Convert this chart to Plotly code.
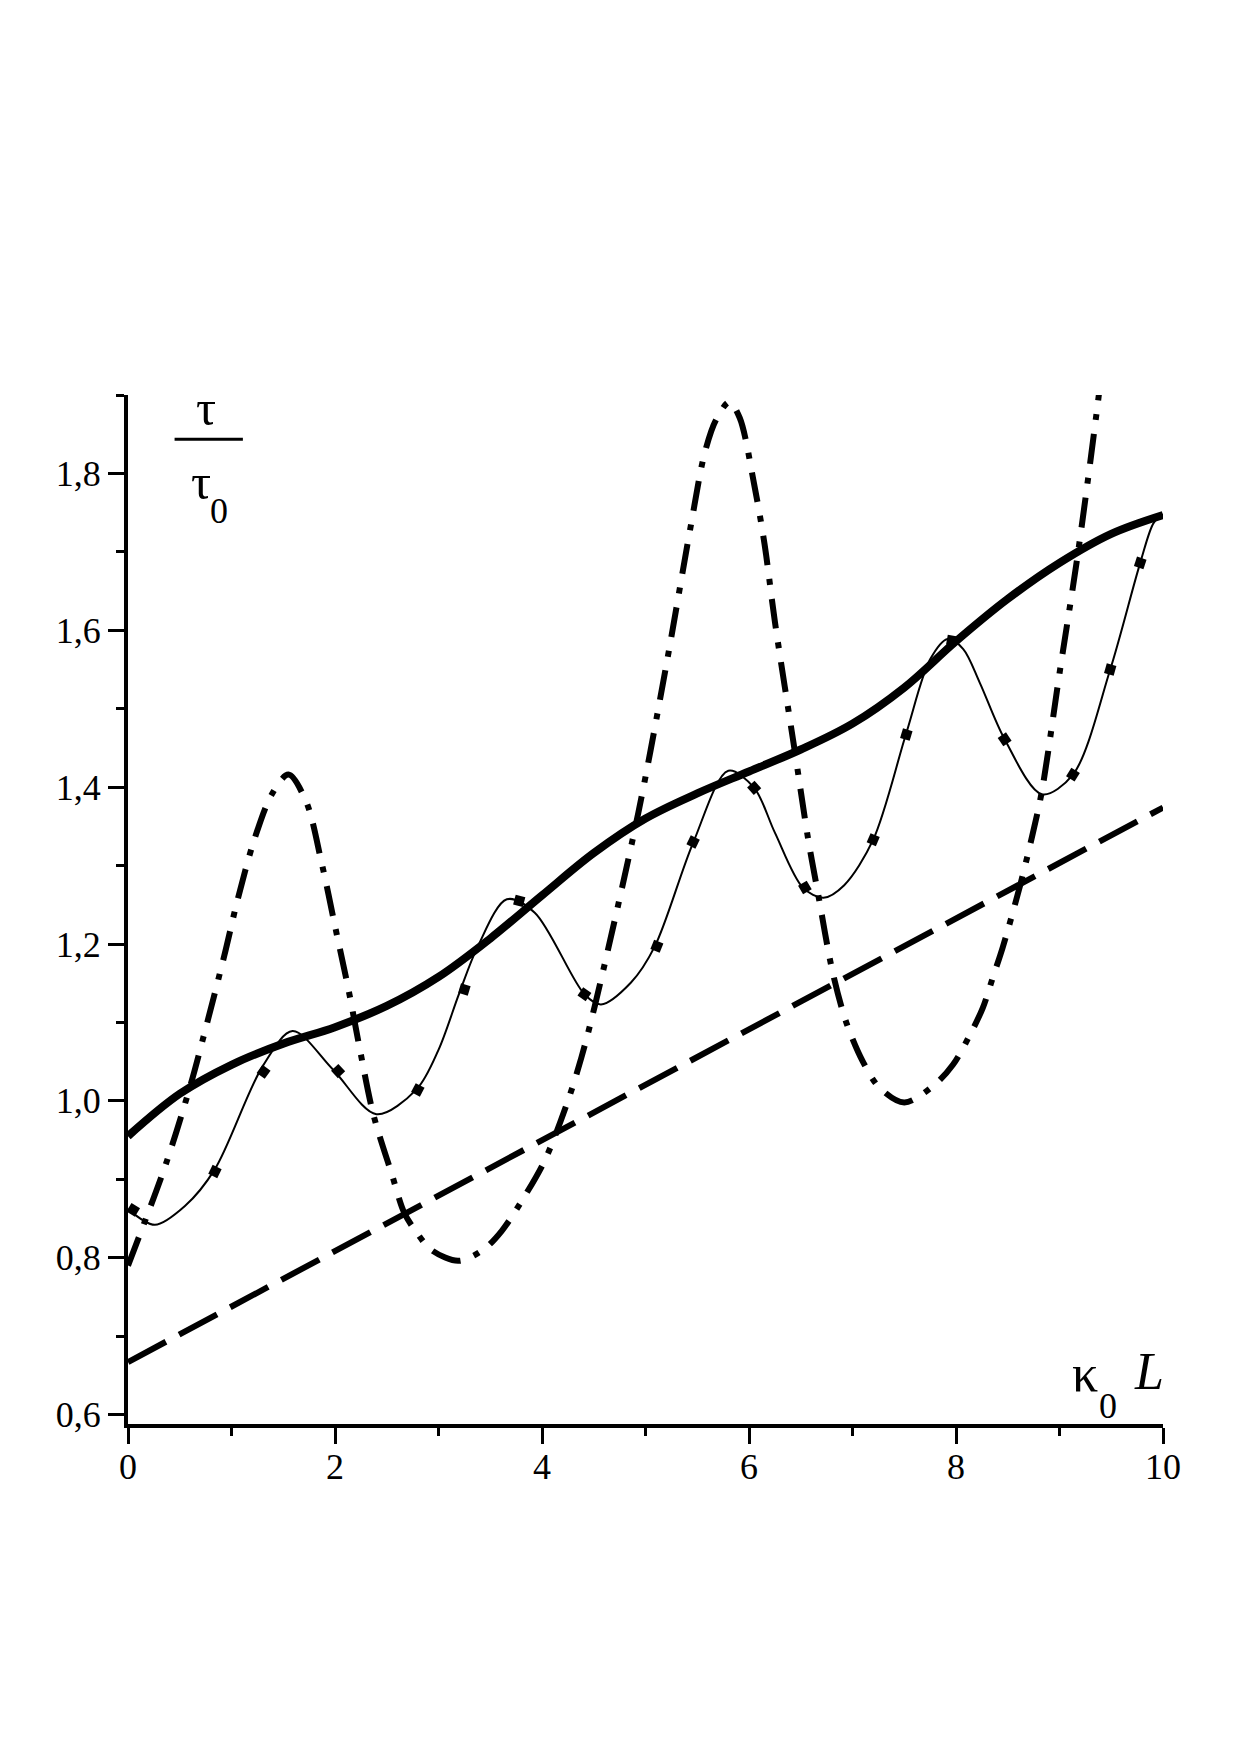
import plotly.graph_objects as go

# ---------------- data ----------------
# thick solid curve
thick_x = [0, 0.5, 1.0, 1.5, 2.0, 2.5, 3.0, 3.5, 4.0, 4.5, 5.0, 5.5, 6.0, 6.5, 7.0,
           7.5, 8.0, 8.5, 9.0, 9.5, 10]
thick_y = [0.955, 1.009, 1.046, 1.073, 1.094, 1.121, 1.158, 1.207, 1.262, 1.316, 1.360,
           1.392, 1.420, 1.448, 1.481, 1.527, 1.586, 1.640, 1.686, 1.723, 1.747]

# thin oscillating solid curve
thin_x = [0.0, 0.26, 0.55, 0.84, 1.30, 1.59, 1.98, 2.40, 2.79, 3.00, 3.20, 3.38, 3.66,
          3.93, 4.41, 4.57, 4.86, 5.09, 5.46, 5.80, 6.05, 6.25, 6.52, 6.72, 6.92, 7.20,
          7.52, 7.75, 7.92, 8.07, 8.23, 8.47, 8.83, 9.13, 9.49, 9.78, 9.91, 10.0]
thin_y = [0.862, 0.842, 0.866, 0.913, 1.044, 1.089, 1.040, 0.983, 1.015, 1.065, 1.137,
          1.197, 1.257, 1.240, 1.136, 1.123, 1.151, 1.197, 1.329, 1.421, 1.399, 1.342,
          1.272, 1.259, 1.275, 1.333, 1.469, 1.563, 1.589, 1.576, 1.533, 1.461, 1.391,
          1.416, 1.550, 1.686, 1.737, 1.748]

# square dots (dotted curve)
sq_x = [0.05, 0.84, 1.31, 2.03, 2.80, 3.25, 3.78, 4.41, 5.11, 5.46, 6.05, 6.54, 7.20,
        7.52, 7.96, 8.47, 9.13, 9.49, 9.78]
sq_y = [0.861, 0.910, 1.037, 1.038, 1.014, 1.142, 1.255, 1.136, 1.197, 1.330, 1.399,
        1.272, 1.333, 1.467, 1.587, 1.461, 1.416, 1.550, 1.686]
sq_angle = [31, 26, 36, 47, 28, 17, 15, 35, 22, 26, 48, 60, 23, 17, 10, 56, 32, 16, 18]

# dash-dot curve
dd_x = [0.0, 0.37, 0.61, 0.72, 0.93, 1.06, 1.22, 1.39, 1.55, 1.72, 1.87, 2.00, 2.13,
        2.24, 2.37, 2.55, 2.67, 2.79, 2.93, 3.19, 3.43, 3.61, 3.83, 4.03, 4.25, 4.38,
        4.51, 4.93, 5.20, 5.44, 5.57, 5.68, 5.81, 5.91, 6.05, 6.15, 6.25, 6.44, 6.57,
        6.67, 6.81, 6.94, 7.10, 7.26, 7.50, 7.78, 7.97, 8.13, 8.26, 8.36, 8.45, 8.62,
        8.74, 8.83, 9.00, 9.18, 9.38, 9.45]
dd_y = [0.790, 0.921, 1.023, 1.077, 1.185, 1.257, 1.333, 1.391, 1.416, 1.382, 1.304,
        1.223, 1.142, 1.066, 0.983, 0.906, 0.857, 0.832, 0.810, 0.796, 0.810, 0.834,
        0.878, 0.925, 1.000, 1.055, 1.121, 1.367, 1.555, 1.735, 1.825, 1.868, 1.891,
        1.871, 1.786, 1.710, 1.611, 1.448, 1.335, 1.262, 1.163, 1.100, 1.050, 1.017,
        0.998, 1.019, 1.046, 1.083, 1.119, 1.159, 1.195, 1.275, 1.340, 1.395, 1.545,
        1.700, 1.900, 1.980]

# dashed straight line
dash_x = [0, 10]
dash_y = [0.667, 1.374]

# axes
x_ticks = [0, 2, 4, 6, 8, 10]
x_labels = ["0", "2", "4", "6", "8", "10"]
y_ticks = [0.6, 0.8, 1.0, 1.2, 1.4, 1.6, 1.8]
y_labels = ["0,6", "0,8", "1,0", "1,2", "1,4", "1,6", "1,8"]

FONT = "Liberation Serif"

fig = go.Figure()

fig.add_trace(go.Scatter(x=dash_x, y=dash_y, mode="lines",
                         line=dict(color="black", width=6, dash="43px,15px")))
fig.add_trace(go.Scatter(x=dd_x, y=dd_y, mode="lines",
                         line=dict(color="black", width=6, shape="spline", smoothing=0.9,
                                   dash="30px,14px,6px,14px")))
fig.add_trace(go.Scatter(x=thin_x, y=thin_y, mode="lines",
                         line=dict(color="black", width=2, shape="spline", smoothing=0.9)))
fig.add_trace(go.Scatter(x=sq_x, y=sq_y, mode="markers",
                         marker=dict(symbol="square", size=10, color="black",
                                     angle=sq_angle, line=dict(width=0))))
fig.add_trace(go.Scatter(x=thick_x, y=thick_y, mode="lines",
                         line=dict(color="black", width=8, shape="spline", smoothing=1.0)))

axis_common = dict(showgrid=False, zeroline=False, showline=True, linecolor="black",
                   linewidth=4, ticks="outside", ticklen=16, tickwidth=3, tickcolor="black",
                   tickfont=dict(family=FONT, size=36, color="black"))

fig.update_xaxes(range=[0, 10], tickmode="array", tickvals=x_ticks, ticktext=x_labels,
                 ticklabelstandoff=-8,
                 minor=dict(dtick=1, tick0=0, ticks="outside", ticklen=8, tickwidth=3,
                            tickcolor="black", showgrid=False),
                 **axis_common)
fig.update_yaxes(range=[0.588, 1.9], tickmode="array", tickvals=y_ticks, ticktext=y_labels,
                 minor=dict(dtick=0.1, tick0=0.6, ticks="outside", ticklen=8, tickwidth=3,
                            tickcolor="black", showgrid=False),
                 **axis_common)

# axis label: tau / tau_0
fig.add_annotation(x=0.75, y=1.884, xref="x", yref="y", text="τ", showarrow=False,
                   font=dict(family=FONT, size=50, color="black"))
fig.add_shape(type="line", xref="x", yref="y", x0=0.45, x1=1.11, y0=1.8436, y1=1.8436,
              line=dict(color="black", width=3))
fig.add_annotation(x=0.71, y=1.789, xref="x", yref="y", text="τ", showarrow=False,
                   font=dict(family=FONT, size=50, color="black"))
fig.add_annotation(x=0.88, y=1.752, xref="x", yref="y", text="0", showarrow=False,
                   font=dict(family=FONT, size=36, color="black"))

# axis label: kappa_0 L
fig.add_annotation(x=9.25, y=0.652, xref="x", yref="y", text="κ", showarrow=False,
                   font=dict(family=FONT, size=52, color="black"))
fig.add_annotation(x=9.47, y=0.611, xref="x", yref="y", text="0", showarrow=False,
                   font=dict(family=FONT, size=36, color="black"))
fig.add_annotation(x=9.86, y=0.655, xref="x", yref="y", text="<i>L</i>", showarrow=False,
                   font=dict(family=FONT, size=52, color="black"))

fig.update_layout(width=1240, height=1755,
                  margin=dict(l=128, r=77, t=395, b=331, pad=0),
                  plot_bgcolor="white", paper_bgcolor="white", showlegend=False,
                  font=dict(family=FONT, color="black"))

fig.write_html("out.html")
